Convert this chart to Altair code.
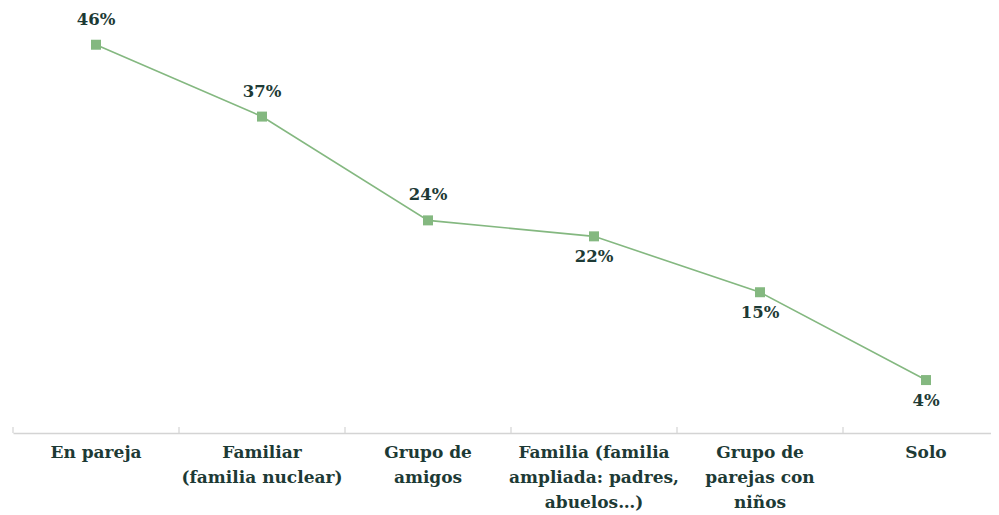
import altair as alt
import pandas as pd

categories = ["En pareja", "Familiar (familia nuclear)", "Grupo de amigos",
              "Familia (familia ampliada: padres, abuelos…)",
              "Grupo de parejas con niños", "Solo"]
category_labels = ["En pareja", "Familiar\n(familia nuclear)", "Grupo de\namigos",
                   "Familia (familia\nampliada: padres,\nabuelos…)",
                   "Grupo de\nparejas con\nniños", "Solo"]
values = [46, 37, 24, 22, 15, 4]
label_side = ["above", "above", "above", "below", "below", "below"]
tick_positions = [-0.5, 0.5, 1.5, 2.5, 3.5, 4.5]

df = pd.DataFrame({
    "idx": list(range(len(categories))),
    "cat": categories,
    "catlabel": category_labels,
    "value": values,
    "side": label_side,
    "text": [f"{v}%" for v in values],
})
ticks_df = pd.DataFrame({"pos": tick_positions})

W, H = 978, 425
FONT = "DejaVu Serif"
TXT = "#1d3a35"
GREEN = "#84b880"

xscale = alt.Scale(domain=[-0.5, -0.5 + W / 166.0], nice=False, zero=False)
yscale = alt.Scale(domain=[-2.63, 50.6], nice=False, zero=False)

x = alt.X("idx:Q", scale=xscale,
          axis=alt.Axis(labels=False, ticks=False, grid=False, title=None,
                        domain=True, domainColor="#d4d4d4", domainWidth=1.5))
y = alt.Y("value:Q", scale=yscale, axis=None)

base = alt.Chart(df)

line = base.mark_line(color=GREEN, strokeWidth=1.6).encode(x=x, y=y)
pts = base.mark_square(color=GREEN, size=100, opacity=1).encode(x=x, y=y)

lab_above = base.transform_filter(alt.datum.side == "above").mark_text(
    font=FONT, fontWeight="bold", fontSize=16.5, color=TXT, dy=-25, baseline="middle"
).encode(x=x, y=y, text="text:N")
lab_below = base.transform_filter(alt.datum.side == "below").mark_text(
    font=FONT, fontWeight="bold", fontSize=16.5, color=TXT, dy=21, baseline="middle"
).encode(x=x, y=y, text="text:N")

ticks = alt.Chart(ticks_df).mark_rule(color="#d4d4d4", strokeWidth=1.2).encode(
    x=alt.X("pos:Q", scale=xscale),
    y=alt.value(H - 6), y2=alt.value(H))

cat_text = base.mark_text(
    font=FONT, fontWeight="bold", fontSize=17, color=TXT, baseline="top",
    align="center", lineBreak="\n", lineHeight=25
).encode(x=x, y=alt.value(H + 12), text="catlabel:N")

chart = alt.layer(line, pts, lab_above, lab_below, ticks, cat_text).properties(
    width=W, height=H, padding={"left": 4, "top": 0, "right": 0, "bottom": 2}
).configure_view(stroke=None)

chart.save("out.html", embed_options={"renderer": "svg", "actions": False})
